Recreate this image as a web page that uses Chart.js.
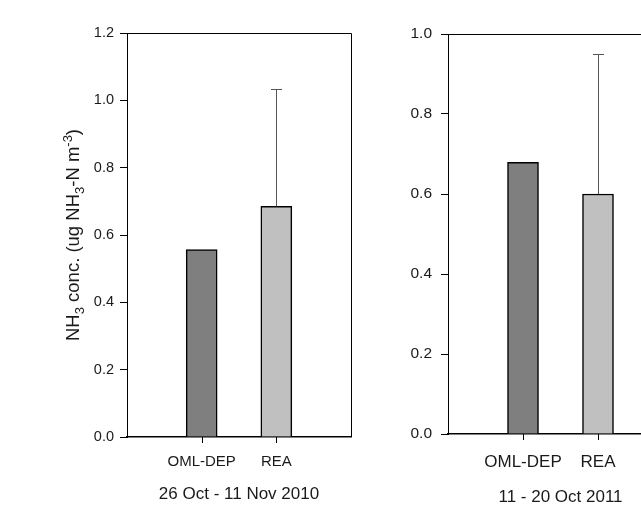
<!DOCTYPE html>
<html>
<head>
<meta charset="utf-8">
<script src="https://cdn.jsdelivr.net/npm/chart.js@4.4.1/dist/chart.umd.min.js"></script>
<style>
  html, body { margin: 0; padding: 0; background: #fff; overflow: hidden; width: 641px; height: 512px; }
  .panel { position: absolute; top: 0; height: 512px; }
  #left { left: 0; width: 380px; }
  #right { left: 380px; width: 320px; }
</style>
</head>
<body>
<div class="panel" id="left"><canvas id="chart2010"></canvas></div>
<div class="panel" id="right"><canvas id="chart2011"></canvas></div>
<script>
// values
const categories = ["OML-DEP", "REA"];
const barColors = ["#7f7f7f", "#c0c0c0"];
const values2010 = [0.557, 0.685];
const errors2010 = [null, 0.35];
const values2011 = [0.679, 0.600];
const errors2011 = [null, 0.35];
const periods = ["26 Oct - 11 Nov 2010", "11 - 20 Oct 2011"];
const yTicks2010 = [0, 0.2, 0.4, 0.6, 0.8, 1.0, 1.2];
const yTicks2011 = [0, 0.2, 0.4, 0.6, 0.8, 1.0];
// y title with sub/superscripts: [text, shift] (1 = sub, -1 = sup)
const yTitleParts = [["NH", 0], ["3", 1], [" conc. (ug NH", 0], ["3", 1], ["-N m", 0], ["-3", -1], [")", 0]];

Chart.defaults.font.family = '"Liberation Sans", Arial, sans-serif';
Chart.defaults.color = "#1a1a1a";

const errorBars = {
  id: "errorBars",
  afterDatasetsDraw(chart, args, opts) {
    const ctx = chart.ctx;
    const yScale = chart.scales.y;
    const meta = chart.getDatasetMeta(0);
    const data = chart.data.datasets[0].data;
    ctx.save();
    ctx.strokeStyle = "#555";
    ctx.lineWidth = 1;
    opts.errors.forEach((err, i) => {
      if (err == null) return;
      const bar = meta.data[i];
      const x = Math.round(bar.x) + 0.5;
      const top = Math.round(yScale.getPixelForValue(data[i] + err)) + 0.5;
      ctx.beginPath();
      ctx.moveTo(x, bar.y);
      ctx.lineTo(x, top);
      ctx.moveTo(x - 5.5, top);
      ctx.lineTo(x + 5.5, top);
      ctx.stroke();
    });
    ctx.restore();
  }
};

// top and right edges of the plot box, and tick marks under the categories
const frame = {
  id: "frame",
  afterDraw(chart) {
    const a = chart.chartArea;
    const ctx = chart.ctx;
    const xScale = chart.scales.x;
    ctx.save();
    ctx.strokeStyle = "#000";
    ctx.lineWidth = 1;
    ctx.beginPath();
    ctx.moveTo(a.left, a.top + 0.5);
    ctx.lineTo(a.right + 0.5, a.top + 0.5);
    ctx.lineTo(a.right + 0.5, a.bottom);
    categories.forEach((c, i) => {
      const x = Math.round(xScale.getPixelForValue(i + 1)) + 0.5;
      ctx.moveTo(x, a.bottom);
      ctx.lineTo(x, a.bottom + 6);
    });
    ctx.stroke();
    ctx.restore();
  }
};

const yTitle = {
  id: "yTitle",
  afterDraw(chart, args, opts) {
    if (!opts.parts) return;
    const ctx = chart.ctx;
    const size = opts.size;
    const small = Math.round(size * 0.72);
    const a = chart.chartArea;
    ctx.save();
    ctx.translate(opts.x, (a.top + a.bottom) / 2);
    ctx.rotate(-Math.PI / 2);
    ctx.fillStyle = "#1a1a1a";
    ctx.textBaseline = "alphabetic";
    ctx.textAlign = "left";
    let total = 0;
    opts.parts.forEach(([t, s]) => {
      ctx.font = (s ? small : size) + "px " + Chart.defaults.font.family;
      total += ctx.measureText(t).width;
    });
    let x = -total / 2;
    opts.parts.forEach(([t, s]) => {
      ctx.font = (s ? small : size) + "px " + Chart.defaults.font.family;
      const dy = s === 1 ? size * 0.25 : (s === -1 ? -size * 0.4 : 0);
      ctx.fillText(t, x, dy);
      x += ctx.measureText(t).width;
    });
    ctx.restore();
  }
};

function makeChart(id, values, errors, period, yTicks, opt) {
  return new Chart(document.getElementById(id), {
    type: "bar",
    data: {
      labels: ["", ...categories, ""],
      datasets: [{
        data: [null, ...values, null],
        backgroundColor: ["#fff", ...barColors, "#fff"],
        borderColor: "#000",
        borderWidth: 1.5,
        barThickness: 31
      }]
    },
    options: {
      responsive: true,
      maintainAspectRatio: false,
      animation: false,
      layout: { padding: opt.padding },
      plugins: {
        legend: { display: false },
        tooltip: { enabled: false },
        errorBars: { errors: [null, ...errors, null] },
        yTitle: opt.yTitle || {}
      },
      scales: {
        x: {
          offset: false,
          grid: { offset: false, drawOnChartArea: false, tickLength: 6, tickColor: "rgba(0,0,0,0)" },
          border: { color: "#000", width: 1.5 },
          ticks: { font: { size: opt.xFont }, padding: opt.xPad, maxRotation: 0, autoSkip: false },
          title: { display: true, text: period, font: { size: 17 }, padding: { top: 0, bottom: opt.titlePad } },
          afterFit: s => { s.height = opt.xHeight; }
        },
        y: {
          min: yTicks[0],
          max: yTicks[yTicks.length - 1],
          ticks: {
            stepSize: yTicks[1] - yTicks[0],
            font: { size: opt.yFont },
            padding: opt.yPad,
            callback: v => v.toFixed(1)
          },
          grid: { drawOnChartArea: false, tickLength: 7, tickColor: "#000" },
          border: { color: "#000", width: 1 },
          afterFit: s => { s.width = opt.yWidth; }
        }
      }
    },
    plugins: [errorBars, frame, yTitle]
  });
}

makeChart("chart2010", values2010, errors2010, periods[0], yTicks2010, {
  padding: { left: 0, top: 33, right: 29, bottom: 0 },
  yWidth: 127, xHeight: 75,
  xFont: 15, yFont: 14.5, xPad: 10, yPad: 6, titlePad: 7,
  yTitle: { parts: yTitleParts, size: 18.5, x: 79 }
});

makeChart("chart2011", values2011, errors2011, periods[1], yTicks2011, {
  padding: { left: 0, top: 34, right: 27, bottom: 0 },
  yWidth: 68, xHeight: 78,
  xFont: 17, yFont: 15.5, xPad: 12, yPad: 9, titlePad: 4
});
</script>
</body>
</html>
